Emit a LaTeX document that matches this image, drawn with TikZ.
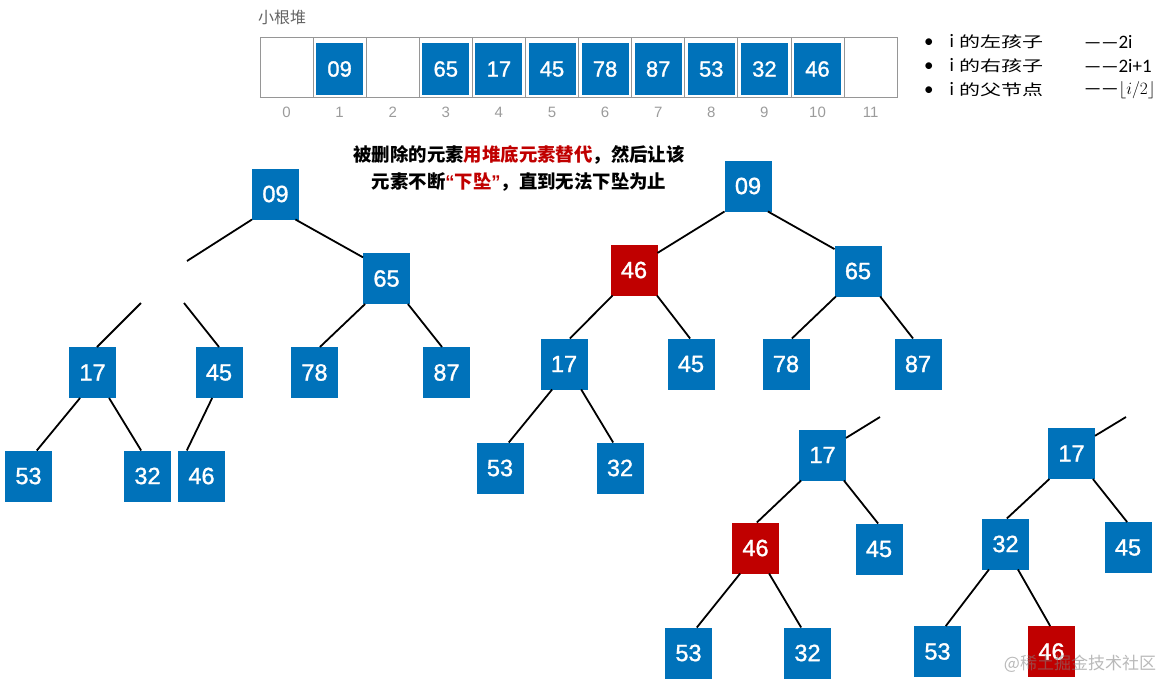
\documentclass[tikz,border=0pt]{standalone}
\usepackage{fontspec}
\setmainfont{Liberation Sans}
\newfontfamily\cjk{Noto Sans CJK SC}
\newfontfamily\legendfont{Carlito}
\newfontfamily\numfont{Liberation Sans}[FakeBold=1.3]
\usepackage{graphicx}
\usetikzlibrary{positioning}
\definecolor{heapblue}{RGB}{0,114,186}
\definecolor{heapred}{RGB}{192,0,0}
\definecolor{cellgray}{RGB}{150,150,150}
\definecolor{idxgray}{RGB}{155,155,155}
\definecolor{titlegray}{RGB}{100,100,100}

\begin{document}
\begin{tikzpicture}[
    x=1pt, y=-1pt,
    heapkey/.style={fill=heapblue, text=white, minimum width=47pt, minimum height=51pt,
                    inner sep=0pt, outer sep=0pt, font=\numfont\fontsize{23.5}{26}\selectfont},
    heaphot/.style={heapkey, fill=heapred},
    heapslot/.style={draw=cellgray, line width=0.8pt, minimum width=53.1pt,
                     minimum height=60pt, inner sep=0pt, outer sep=0pt},
    heapval/.style={heapkey, minimum height=52pt, font=\numfont\fontsize{22}{24}\selectfont},
    heapidx/.style={text=idxgray, font=\fontsize{15}{18}\selectfont},
    heapleg/.style={anchor=west, inner sep=0pt, font=\legendfont\fontsize{19}{22}\selectfont},
    heapline/.style={line width=1.8pt},
]
\useasboundingbox (0,0) rectangle (1166,682);

% array
\node[anchor=west, inner sep=0pt, text=titlegray, font=\cjk\fontsize{16}{19}\selectfont]
    (title) at (258,17) {小根堆};
\foreach \i in {0,...,11} {
  \node[heapslot] (cell\i) at (286.5+53.1*\i, 67.5) {};
  \node[heapidx] (idx\i) at (286.5+53.1*\i, 112) {\i};
}
\draw[line width=1.4pt, draw=cellgray] (cell0.south west) -- (cell11.south east);
\foreach \i/\v in {1/09,3/65,4/17,5/45,6/78,7/87,8/53,9/32,10/46}
  \node[heapval] (val\i) at (286.5+53.1*\i, 69) {\v};

% legend
\node[heapleg] (leg1) at (924,42) {•\hspace{16pt}i\hspace{5pt}\scalebox{1.4}[1]{\cjk\fontsize{15}{18}\selectfont 的左孩子}};
\node[heapleg] (leg2) at (924,66) {•\hspace{16pt}i\hspace{5pt}\scalebox{1.4}[1]{\cjk\fontsize{15}{18}\selectfont 的右孩子}};
\node[heapleg] (leg3) at (924,90) {•\hspace{16pt}i\hspace{5pt}\scalebox{1.4}[1]{\cjk\fontsize{15}{18}\selectfont 的父节点}};
\node[heapleg] (rule1) at (1084,42) {——2i};
\node[heapleg] (rule2) at (1084,66) {——2i+1};
\node[heapleg] (rule3) at (1084,90) {——$\lfloor i/2\rfloor$};

\node[align=center, inner sep=0pt, font=\cjk\bfseries\fontsize{18.4}{27}\selectfont] (note) at (519,168.5)
    {被删除的元素\textcolor{heapred}{用堆底元素替代}，然后让该\\元素不断\textcolor{heapred}{{\normalfont\bfseries “}下坠{\normalfont\bfseries ”}}，直到无法下坠为止};

% tree 1
\node[heapkey] (t1r) at (275.5,194) {09};
\node[heapkey, below right=33.5pt and 64pt of t1r] (t1c) {65};
\node[heapkey, below left=43pt and 25pt of t1c] (t1d) {78};
\node[heapkey, below right=43pt and 13pt of t1c] (t1e) {87};
\node[heapkey, left=48.5pt of t1d] (t1b) {45};
\node[heapkey, left=79.5pt of t1b] (t1a) {17};
\node[heapkey, below left=52.5pt and 17pt of t1a] (t1f) {53};
\node[heapkey, below right=52.5pt and 8pt of t1a] (t1g) {32};
\node[heapkey, right=7pt of t1g] (t1h) {46};
\coordinate (t1p) at (187,261);
\coordinate (t1q) at (141,303);
\coordinate (t1s) at (184,303);

\draw[heapline] (t1r.south west) -- (t1p);
\draw[heapline] (t1r.-52) -- (t1c.138);
\draw[heapline] (t1q) -- (t1a.80);
\draw[heapline] (t1s) -- (t1b.north);
\foreach \p/\a/\c/\b in {t1c/-130/t1d/78, t1c/-50/t1e/100, t1a/-116/t1f/72,
                         t1a/-57/t1g/104, t1b/-105/t1h/120}
  \draw[heapline] (\p.\a) -- (\c.\b);

% tree 2
\node[heapkey] (t2r) at (748,186) {09};
\node[heaphot, below left=33pt and 67pt of t2r] (t2a) {46};
\node[heapkey, below right=34pt and 63pt of t2r] (t2b) {65};
\node[heapkey, below left=43pt and 23pt of t2a] (t2c) {17};
\node[heapkey, below right=43pt and 10pt of t2a] (t2d) {45};
\node[heapkey, below left=42pt and 25pt of t2b] (t2e) {78};
\node[heapkey, below right=42pt and 13pt of t2b] (t2f) {87};
\node[heapkey, below left=53pt and 17pt of t2c] (t2g) {53};
\node[heapkey, below right=53pt and 9pt of t2c] (t2h) {32};

\draw[heapline] (t2r.south west) -- (t2a.36);
\draw[heapline] (t2r.-52) -- (t2b.137);
\foreach \p/\a/\c/\b in {t2a/-130/t2c/77, t2a/-48/t2d/92, t2b/-131/t2e/77,
                         t2b/-49/t2f/101, t2c/-115/t2g/71, t2c/-56/t2h/105}
  \draw[heapline] (\p.\a) -- (\c.\b);

% tree 3
\node[heapkey] (t3r) at (822.5,455) {17};
\node[heaphot, below left=42pt and 20pt of t3r] (t3a) {46};
\node[heapkey, below right=43pt and 9.5pt of t3r] (t3b) {45};
\node[heapkey, below left=54pt and 20pt of t3a] (t3c) {53};
\node[heapkey, below right=54pt and 5pt of t3a] (t3d) {32};
\coordinate (t3p) at (880,417);

\draw[heapline] (t3r.36) -- (t3p);
\foreach \p/\a/\c/\b in {t3r/-130/t3a/87, t3r/-50/t3b/92, t3a/-121/t3c/72, t3a/-62/t3d/104}
  \draw[heapline] (\p.\a) -- (\c.\b);

% tree 4
\node[heapkey] (t4r) at (1071.5,453.5) {17};
\node[heapkey, below left=39.5pt and 19pt of t4r] (t4a) {32};
\node[heapkey, below right=43pt and 9.5pt of t4r] (t4b) {45};
\node[heapkey, below left=56.5pt and 21pt of t4a] (t4c) {53};
\node[heaphot, below right=56.5pt and -1pt of t4a] (t4d) {46};
\coordinate (t4p) at (1126,417);

\draw[heapline] (t4r.37) -- (t4p);
\foreach \p/\a/\c/\b in {t4r/-131/t4a/87, t4r/-50/t4b/92, t4a/-123/t4c/72, t4a/-64/t4d/93}
  \draw[heapline] (\p.\a) -- (\c.\b);

\node[text=gray, opacity=0.55, font=\cjk\fontsize{17}{20}\selectfont] (mark) at (1080,664) {@稀土掘金技术社区};
\end{tikzpicture}
\end{document}
